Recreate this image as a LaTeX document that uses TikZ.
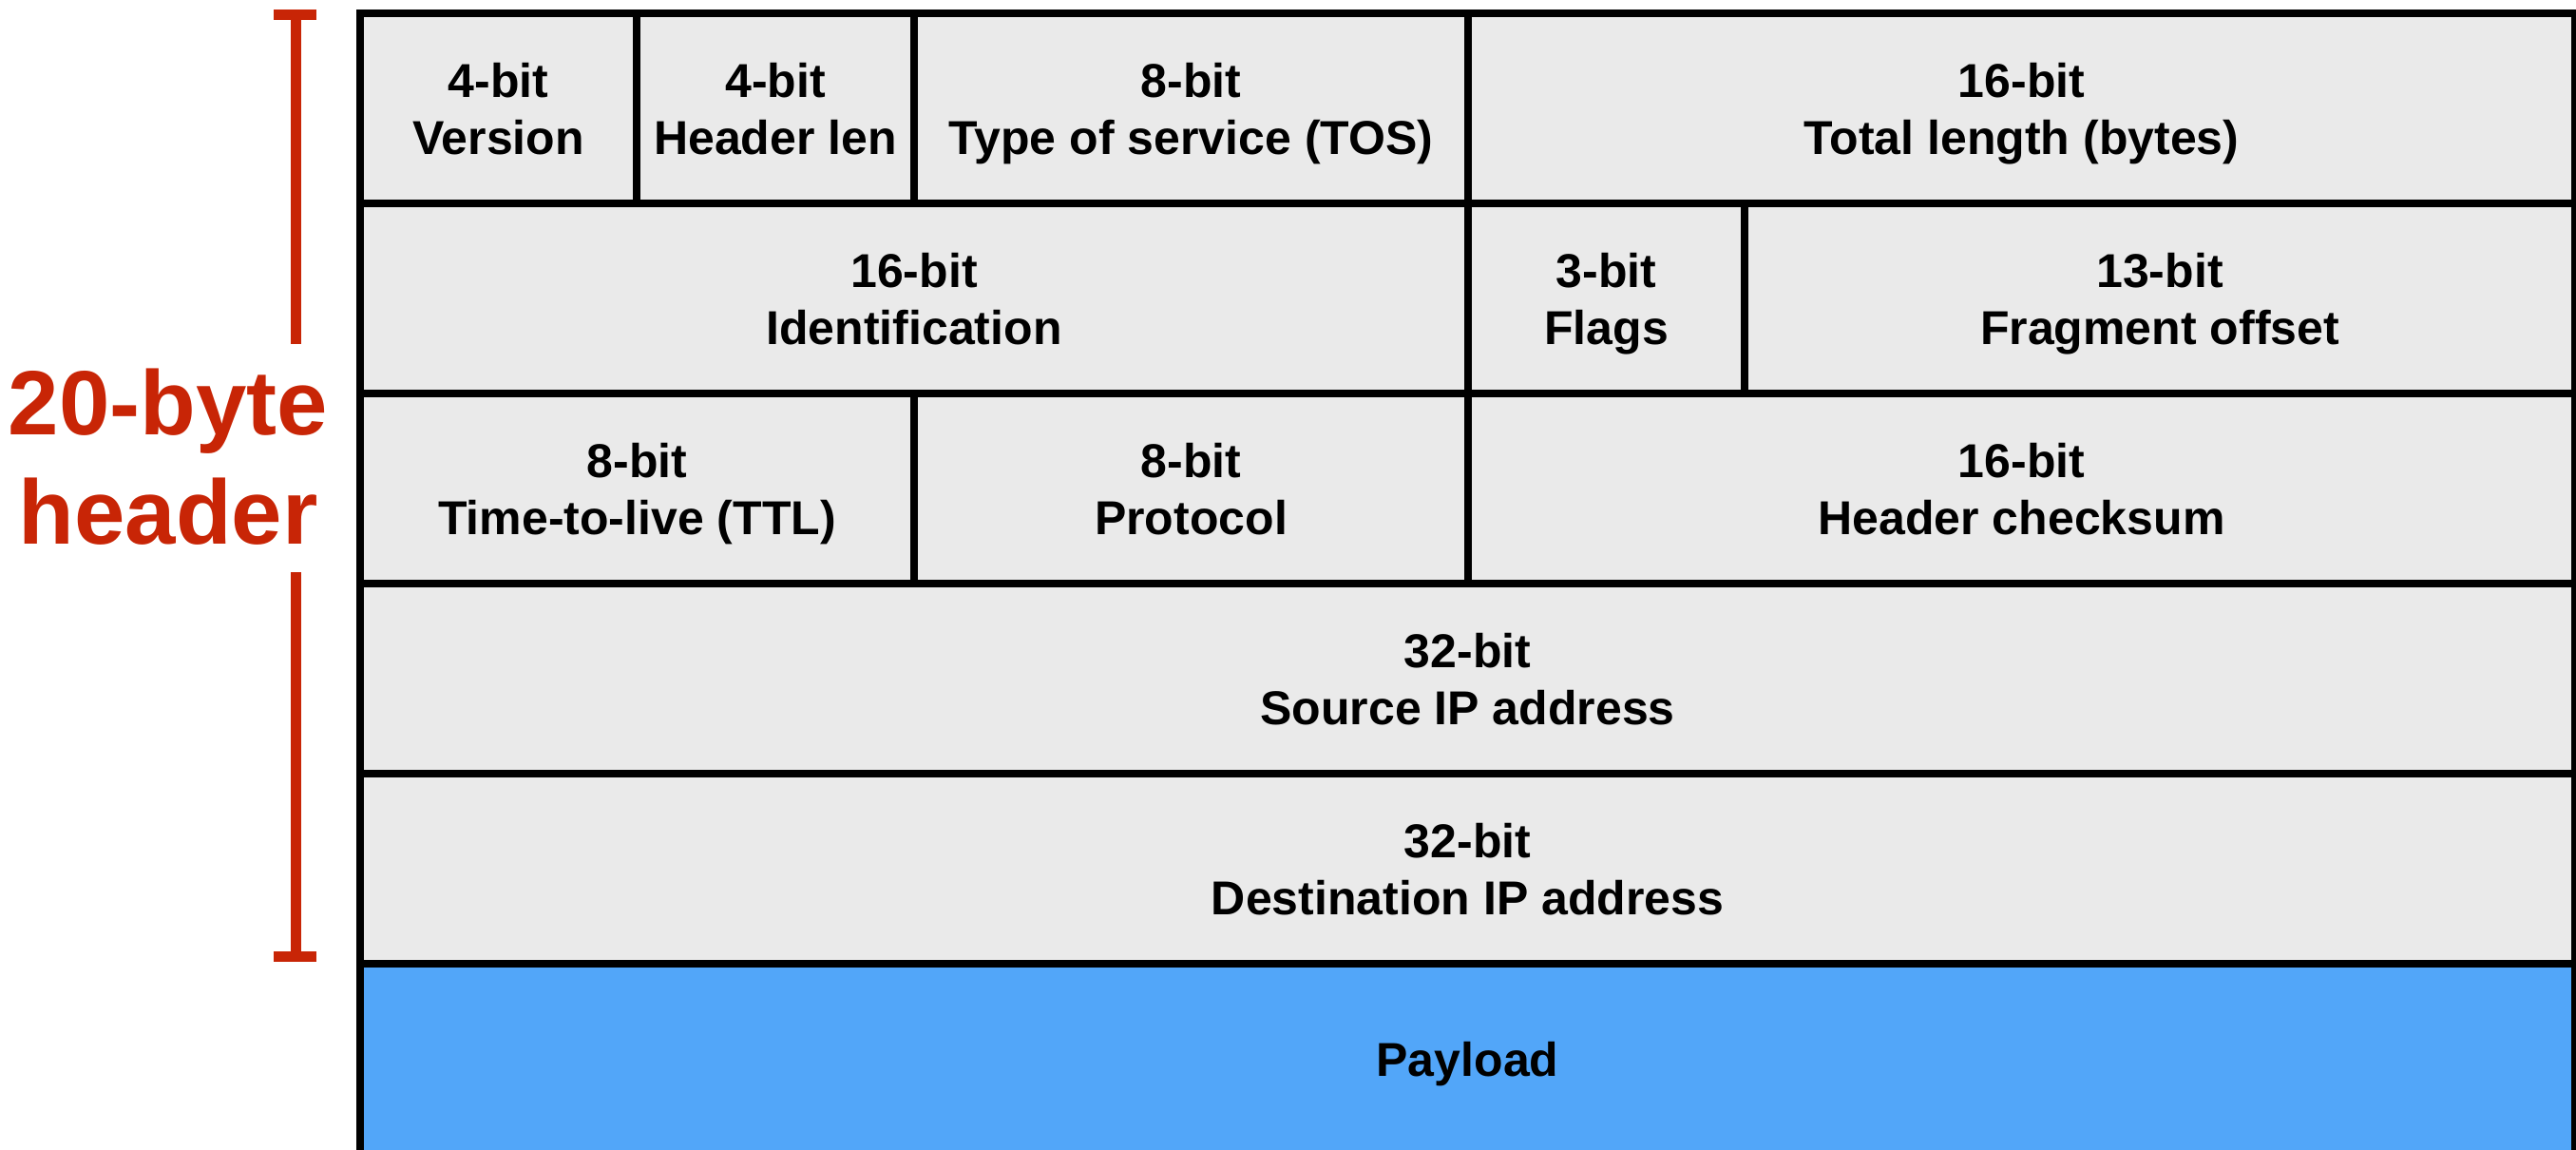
\documentclass[tikz,border=0pt]{standalone}
\usepackage{fontspec}
\setmainfont{Liberation Sans}
\definecolor{cellgray}{RGB}{234,234,234}
\definecolor{payblue}{RGB}{82,166,249}
\definecolor{hdrred}{RGB}{200,37,6}
\newcommand\cellfont{\fontsize{14.23pt}{17.07pt}\selectfont\bfseries}
\newcommand\redfont{\fontsize{27.32pt}{32.73pt}\selectfont\bfseries}
\newcommand\twol[2]{\rule{0pt}{0.37cm}\smash{#1}\\\smash{#2}}
\begin{document}
\begin{tikzpicture}[x=1cm,y=1cm,
  cell/.style={draw=black, line width=0.075cm, fill=cellgray, inner sep=0pt,
    rectangle, align=center, font=\cellfont, text=black},
  paycell/.style={cell, fill=payblue},
  bracketline/.style={draw=hdrred, line width=0.11cm},
  redlabel/.style={align=center, font=\redfont, text=hdrred, inner sep=0pt}]
\useasboundingbox (0,0) rectangle (27.11,-12.09);
\fill[white] (0,0) rectangle (27.11,-12.09);
% Row 1
\node[cell, minimum width=2.91cm, minimum height=2cm] (ver) at (5.245,-1.14) {\twol{4-bit}{Version}};
\node[cell, minimum width=2.92cm, minimum height=2cm] (hlen) at (8.16,-1.14) {\twol{4-bit}{Header len}};
\node[cell, minimum width=5.83cm, minimum height=2cm] (tos) at (12.535,-1.14) {\twol{8-bit}{Type of service (TOS)}};
\node[cell, minimum width=11.65cm, minimum height=2cm] (tlen) at (21.275,-1.14) {\twol{16-bit}{Total length (bytes)}};
% Row 2
\node[cell, minimum width=11.66cm, minimum height=2cm] (ident) at (9.62,-3.14) {\twol{16-bit}{Identification}};
\node[cell, minimum width=2.91cm, minimum height=2cm] (flags) at (16.905,-3.14) {\twol{3-bit}{Flags}};
\node[cell, minimum width=8.74cm, minimum height=2cm] (frag) at (22.73,-3.14) {\twol{13-bit}{Fragment offset}};
% Row 3
\node[cell, minimum width=5.83cm, minimum height=2cm] (ttl) at (6.705,-5.14) {\twol{8-bit}{Time-to-live (TTL)}};
\node[cell, minimum width=5.83cm, minimum height=2cm] (proto) at (12.535,-5.14) {\twol{8-bit}{Protocol}};
\node[cell, minimum width=11.65cm, minimum height=2cm] (csum) at (21.275,-5.14) {\twol{16-bit}{Header checksum}};
% Row 4, 5
\node[cell, minimum width=23.31cm, minimum height=2cm] (src) at (15.445,-7.14) {\twol{32-bit}{Source IP address}};
\node[cell, minimum width=23.31cm, minimum height=2cm] (dst) at (15.445,-9.14) {\twol{32-bit}{Destination IP address}};
% Payload
\node[paycell, minimum width=23.31cm, minimum height=2cm] (pay) at (15.445,-11.14) {\rule{0pt}{0.36cm}\smash{Payload}};
% Bracket
\coordinate (btop) at (3.11,-0.155);
\coordinate (bgap1) at (3.11,-3.62);
\coordinate (bgap2) at (3.11,-6.02);
\coordinate (bbot) at (3.11,-10.065);
\coordinate (tcl) at (2.88,-0.155);
\coordinate (tcr) at (3.33,-0.155);
\coordinate (bcl) at (2.88,-10.065);
\coordinate (bcr) at (3.33,-10.065);
\draw[bracketline] (btop) -- (bgap1);
\draw[bracketline] (bgap2) -- (bbot);
\draw[bracketline] (tcl) -- (tcr);
\draw[bracketline] (bcl) -- (bcr);
\node[redlabel] (hdr) at (1.77,-4.80) {\rule{0pt}{0.69cm}\smash{20-byte}\\\smash{header}};
\end{tikzpicture}
\end{document}
